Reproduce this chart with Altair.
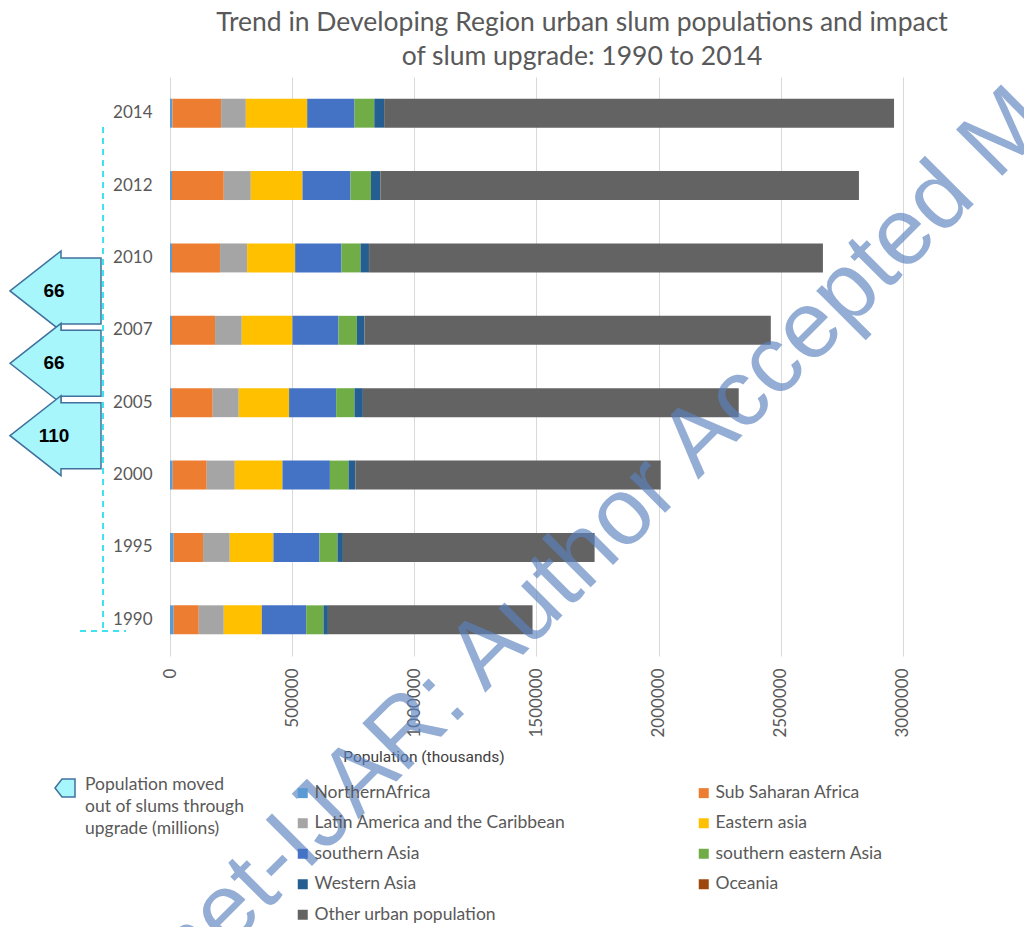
import altair as alt
import pandas as pd

# ---------------- data ----------------
years = ["2014", "2012", "2010", "2007", "2005", "2000", "1995", "1990"]

series_names = [
    "NorthernAfrica",
    "Sub Saharan Africa",
    "Latin America and the Caribbean",
    "Eastern asia",
    "southern Asia",
    "southern eastern Asia",
    "Western Asia",
    "Oceania",
    "Other urban population",
]
series_colors = ["#5b9bd5", "#ed7d31", "#a5a5a5", "#ffc000", "#4472c4",
                 "#70ad47", "#255e91", "#9e480e", "#636363"]

northern_africa = [10000, 8200, 8200, 8200, 8000, 11100, 15200, 15200]
sub_saharan_africa = [199200, 211900, 196700, 176200, 166800, 139300, 120100, 102500]
latin_america = [101200, 110700, 110700, 109400, 106600, 114800, 109400, 102500]
eastern_asia = [251200, 211500, 196700, 207400, 206100, 195100, 178700, 155700]
southern_asia = [193900, 196700, 189800, 188500, 192600, 194300, 188500, 181600]
south_eastern_asia = [80700, 83600, 77900, 75400, 75000, 76200, 73800, 70900]
western_asia = [39800, 38100, 34400, 31100, 34400, 27500, 22100, 18000]
oceania = [600, 580, 560, 540, 520, 500, 450, 400]
other_urban = [2087300, 1959000, 1857800, 1662700, 1538100, 1250000, 1029900, 837300]

series_values = [northern_africa, sub_saharan_africa, latin_america, eastern_asia,
                 southern_asia, south_eastern_asia, western_asia, oceania, other_urban]

x_ticks = [0, 500000, 1000000, 1500000, 2000000, 2500000, 3000000, 3500000]

upgrade_years = ["2010", "2007", "2005"]
moved_millions = [66, 66, 110]

title_lines = ["Trend in Developing Region urban slum populations and impact",
               "of slum upgrade: 1990 to 2014"]
x_title = "Population  (thousands)"
note_text = "Population moved\nout of slums through\nupgrade (millions)"
watermark = "Archnet-IJAR: Author Accepted Manuscript"

# ---------------- tables ----------------
rows = []
for i, (name, vals) in enumerate(zip(series_names, series_values)):
    for y, v in zip(years, vals):
        rows.append({"year": y, "series": name, "value": v, "idx": i})
df = pd.DataFrame(rows)
arrows_df = pd.DataFrame({"year": upgrade_years, "moved": moved_millions})
one = pd.DataFrame({"a": [0]})

# legend is filled column by column: reorder so it reads row by row
legend_order = [0, 2, 4, 6, 8, 1, 3, 5, 7]
legend_domain = [series_names[i] for i in legend_order]
legend_range = [series_colors[i] for i in legend_order]

W, H = 846, 579
XMAX = 3500000 * W / 855.0
GREY = "#595959"
FONT = "Lato"

y_axis = alt.Axis(domain=False, ticks=False, labelPadding=18, labelFontSize=17,
                  labelColor=GREY, labelFont=FONT, title=None, grid=False)
y_scale = alt.Scale(paddingInner=0.6, paddingOuter=0.3)
y_enc = alt.Y("year:N", sort=years, scale=y_scale, axis=y_axis)

bars = alt.Chart(df).mark_bar().encode(
    x=alt.X("value:Q", stack="zero",
            scale=alt.Scale(domain=[0, XMAX], nice=False, zero=True),
            axis=alt.Axis(values=x_ticks, format="d", labelAngle=270, grid=True,
                          gridColor="#d9d9d9", gridWidth=1, domain=False, ticks=False,
                          labelPadding=12, labelFontSize=17, labelColor=GREY,
                          labelFont=FONT, title=None)),
    y=y_enc,
    color=alt.Color("series:N",
                    scale=alt.Scale(domain=legend_domain, range=legend_range),
                    legend=alt.Legend(orient="none", legendX=124, legendY=707,
                                      columns=2, columnPadding=129, rowPadding=11.5,
                                      symbolType="square", symbolSize=100,
                                      symbolStrokeWidth=0, labelFontSize=17.5,
                                      labelColor=GREY, labelFont=FONT, labelLimit=400,
                                      labelOffset=3, title=None)),
    order=alt.Order("idx:Q"),
)

ARROW = "M-45.5 0 L5.5 -40 L5.5 -33 L45.5 -33 L45.5 33 L5.5 33 L5.5 40 Z"
arrows = alt.Chart(arrows_df).mark_point(
    shape=ARROW, size=4, filled=True, fill="#a6f6fb", stroke="#41719c",
    strokeWidth=1.5, opacity=1, yOffset=33,
).encode(x=alt.value(-114.5), y=y_enc)

arrow_text = alt.Chart(arrows_df).mark_text(
    font="Liberation Sans", fontWeight="bold", fontSize=19, color="black",
    yOffset=33, align="center", baseline="middle",
).encode(x=alt.value(-116), y=y_enc, text="moved:N")

dash_v = alt.Chart(one).mark_rule(color="#3fe3f0", strokeWidth=2, strokeDash=[6, 5]).encode(
    x=alt.value(-67), y=alt.value(50), y2=alt.value(554))
dash_h = alt.Chart(one).mark_rule(color="#3fe3f0", strokeWidth=2, strokeDash=[6, 5]).encode(
    x=alt.value(-90), x2=alt.value(-44), y=alt.value(554))

ICON = "M-10 0 L-3 -9 L10 -9 L10 9 L-3 9 Z"
note_icon = alt.Chart(one).mark_point(
    shape=ICON, size=4, filled=True, fill="#a6f6fb", stroke="#41719c", strokeWidth=1.5,
    opacity=1).encode(x=alt.value(-105), y=alt.value(711))
note = alt.Chart(one).mark_text(
    text=note_text, lineBreak="\n", align="left", baseline="top", fontSize=17.5,
    lineHeight=22, font=FONT, color=GREY).encode(x=alt.value(-85), y=alt.value(699))

xtitle = alt.Chart(one).mark_text(
    text=x_title, align="center", baseline="middle", fontSize=15.5,
    font="Roboto", color="#404040").encode(x=alt.value(254), y=alt.value(680))

title_l1 = alt.Chart(one).mark_text(
    text=title_lines[0], align="center", baseline="middle", fontSize=26.5, font=FONT,
    color=GREY).encode(x=alt.value(412), y=alt.value(-54))
title_l2 = alt.Chart(one).mark_text(
    text=title_lines[1], align="center", baseline="middle", fontSize=26.5, font=FONT,
    color=GREY).encode(x=alt.value(412), y=alt.value(-20))

wm = alt.Chart(one).mark_text(
    text=watermark, angle=315, align="left", baseline="alphabetic", fontSize=95,
    font="Liberation Sans", color="#5b82c0", opacity=0.65).encode(
    x=alt.value(-118), y=alt.value(1049))

chart = alt.layer(bars, arrows, arrow_text, dash_v, dash_h, note_icon, note, xtitle,
                  title_l1, title_l2, wm).properties(
    width=W, height=H,
    autosize=alt.AutoSizeParams(type="none"),
    padding={"left": 162, "top": 69, "right": 8, "bottom": 271},
).configure(font=FONT, view=alt.ViewConfig(stroke=None))

chart.save("out.html", embed_options={"renderer": "svg", "actions": False})
